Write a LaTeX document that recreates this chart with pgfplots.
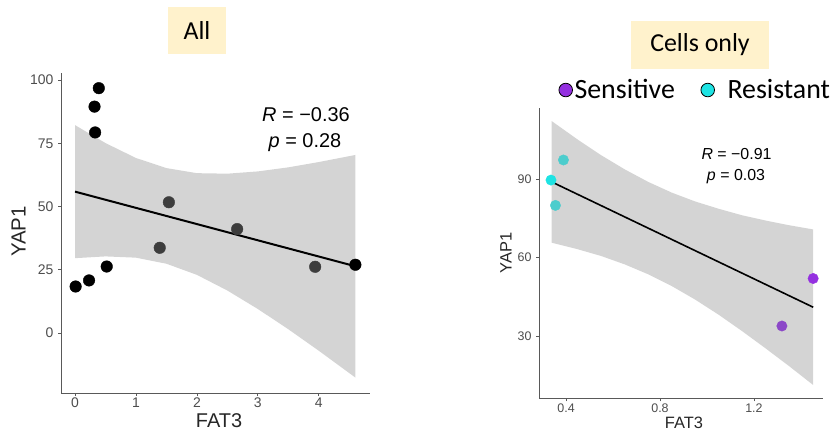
\documentclass[border=0pt]{standalone}
\usepackage{pgfplots}
\pgfplotsset{compat=1.18}
\usepackage{fontspec}
\setmainfont{Liberation Sans}
\newfontfamily\carlito{Carlito}
\definecolor{titlebg}{HTML}{FFF2CC}
\definecolor{tickgray}{HTML}{4D4D4D}
\definecolor{band}{HTML}{D4D4D4}
\definecolor{sens}{HTML}{9430E0}
\definecolor{sensin}{HTML}{8C48C8}
\definecolor{resi}{HTML}{1EE3E3}
\definecolor{resiin}{HTML}{4CCDCD}
\definecolor{blackin}{HTML}{3D3D3D}
\pgfplotsset{
  myax/.style={
    scale only axis,
    axis x line*=bottom, axis y line*=left,
    axis line style={black!65, line width=0.9bp},
    tick style={black!65, line width=0.8bp},
    tick align=outside, major tick length=3bp,
    ticklabel style={text=tickgray},
    /pgf/number format/assume math mode=true,
    clip=false,
  }
}
\begin{document}
\begin{tikzpicture}[x=1bp,y=1bp]
\path[use as bounding box] (0,0) rectangle (833,432);
% titles
\node[fill=titlebg, minimum width=58bp, minimum height=47bp, inner sep=0pt, font=\carlito\fontsize{26}{26}\selectfont] at (197,401.5) {All};
\node[fill=titlebg, minimum width=138bp, minimum height=48bp, inner sep=0pt, font=\carlito\fontsize{26}{26}\selectfont] at (700,387) {Cells only};
% left plot
\begin{axis}[myax, at={(61bp,39bp)}, anchor=south west, width=309bp, height=320bp,
  xmin=-0.23, xmax=4.84, ymin=-23.7, ymax=102.8,
  xtick={0,1,2,3,4}, ytick={0,25,50,75,100},
  ticklabel style={font=\fontsize{14}{14}\selectfont},
  xticklabel style={yshift=2bp}, yticklabel style={xshift=-1bp}]
\addplot[fill=band, draw=none] coordinates {
(0,82.2) (0.5,75.1) (1,69.2) (1.5,65.2) (2,63.2) (2.5,63.0) (3,63.9) (3.5,65.5) (4,67.6) (4.6,70.4)
(4.6,-17.6) (4,-7.0) (3.5,1.5) (3,9.5) (2.5,16.8) (2,23.0) (1.5,27.4) (1,29.8) (0.5,30.3) (0,29.6)} -- cycle;
\addplot[only marks, mark=*, mark size=5.8bp, mark options={fill=black, draw=black}] coordinates {
(0.01,18.4) (0.23,20.8) (0.52,26.3) (0.33,79.3) (0.32,89.5) (0.39,96.8) (4.60,27.0)};
\addplot[only marks, mark=*, mark size=5.8bp, mark options={fill=blackin, draw=blackin}] coordinates {
(1.39,33.7) (1.54,51.7) (2.66,41.1) (3.94,26.2)};
\addplot[black, line width=2bp] coordinates {(0,55.9) (4.6,26.4)};
\end{axis}
\node[font=\fontsize{20}{20}\selectfont] at (306,317) {\textit{R} = −0.36};
\node[font=\fontsize{20}{20}\selectfont] at (305,289) {\textit{p} = 0.28};
\node[font=\fontsize{20.5}{20.5}\selectfont, rotate=90, text=black!85] at (18.5,200.5) {YAP1};
\node[font=\fontsize{20}{20}\selectfont, text=black!85] at (219,11) {FAT3};
% right plot
\begin{axis}[myax, at={(539bp,33.7bp)}, anchor=south west, width=284bp, height=290bp,
  xmin=0.285, xmax=1.494, ymin=6.1, ymax=117.2,
  xtick={0.4,0.8,1.2}, ytick={30,60,90},
  xticklabel style={/pgf/number format/fixed, /pgf/number format/precision=1, /pgf/number format/fixed zerofill, yshift=1bp},
  yticklabel style={xshift=-1bp},
  ticklabel style={font=\fontsize{12.5}{12.5}\selectfont},
  legend columns=2,
  legend style={at={(0.551,1.063)}, anchor=center, draw=none, fill=none,
    font=\carlito\fontsize{28}{28}\selectfont, inner sep=0pt,
    /tikz/every even column/.append style={column sep=24bp}},
  legend cell align=left]
\addlegendimage{only marks, mark=*, mark size=6.8bp, mark options={fill=sens, draw=black, line width=0.8bp}}
\addlegendentry{Sensitive}
\addlegendimage{only marks, mark=*, mark size=6.8bp, mark options={fill=resi, draw=black, line width=0.8bp}}
\addlegendentry{\hspace*{11bp}Resistant}
\addplot[fill=band, draw=none, forget plot] coordinates {
(0.339,112.3) (0.45,105.2) (0.55,99.2) (0.65,93.8) (0.75,89.0) (0.85,84.9) (0.95,81.5) (1.05,78.7) (1.15,76.2) (1.25,74.2) (1.35,72.4) (1.452,70.8)
(1.452,11.2) (1.35,18.4) (1.25,25.2) (1.15,31.8) (1.05,38.1) (0.95,43.9) (0.85,49.1) (0.75,53.6) (0.65,57.4) (0.55,60.6) (0.45,63.2) (0.339,65.7)} -- cycle;
\addplot[only marks, mark=*, mark size=5.2bp, mark options={fill=resi, draw=resi}, forget plot] coordinates {
(0.336,89.7)};
\addplot[only marks, mark=*, mark size=5.2bp, mark options={fill=resiin, draw=resiin}, forget plot] coordinates {
(0.355,80.0) (0.389,97.4)};
\addplot[only marks, mark=*, mark size=5.2bp, mark options={fill=sens, draw=sens}, forget plot] coordinates {
(1.452,52.0)};
\addplot[only marks, mark=*, mark size=5.2bp, mark options={fill=sensin, draw=sensin}, forget plot] coordinates {
(1.319,33.8)};
\addplot[black, line width=1.6bp, forget plot] coordinates {(0.339,89.0) (1.452,41.0)};
\end{axis}
\node[font=\fontsize{16}{16}\selectfont] at (736.5,278) {\textit{R} = −0.91};
\node[font=\fontsize{16}{16}\selectfont] at (736,255) {\textit{p} = 0.03};
\node[font=\fontsize{16.5}{16.5}\selectfont, rotate=90, text=black!85] at (506,179) {YAP1};
\node[font=\fontsize{16.5}{16.5}\selectfont, text=black!85] at (684,9.5) {FAT3};
\end{tikzpicture}
\end{document}
